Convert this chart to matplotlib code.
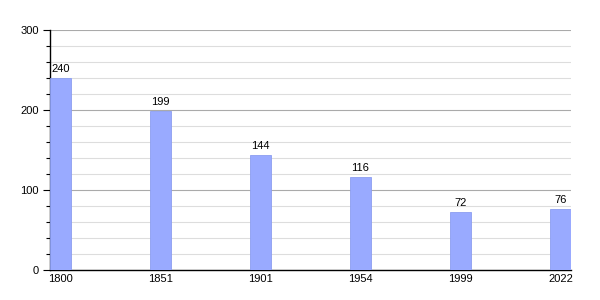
import matplotlib

matplotlib.use("Agg")
import matplotlib.pyplot as plt
import numpy as np
from matplotlib.ticker import MultipleLocator

plt.rcParams["font.family"] = ["Liberation Sans", "DejaVu Sans"]

years = ["1800", "1851", "1901", "1954", "1999", "2022"]
population = [240, 199, 144, 116, 72, 76]

bar_w = 0.21
x = np.arange(len(years))

fig = plt.figure(figsize=(6, 3), dpi=100)
ax = fig.add_axes([50 / 600, 30 / 300, 521 / 600, 240 / 300])

ax.bar(x, population, width=bar_w, align="edge", color="#99aaff",
       edgecolor="#8c9ef0", linewidth=0.6, zorder=3)
for xi, v in zip(x, population):
    ax.text(xi + bar_w / 2, v + 5, str(v), ha="center", va="bottom",
            fontsize=8, color="black", zorder=4)

ax.set_xlim(0, len(years) - 1 + bar_w)
ax.set_ylim(0, 300)
ax.set_xticks(x + bar_w / 2)
ax.set_xticklabels(years, fontsize=8)
ax.tick_params(axis="x", length=0, pad=3)

ax.yaxis.set_major_locator(MultipleLocator(100))
ax.yaxis.set_minor_locator(MultipleLocator(20))
ax.tick_params(axis="y", which="major", length=5, width=0.8, labelsize=8, pad=3)
ax.tick_params(axis="y", which="minor", length=3, width=0.8)
ax.grid(axis="y", which="major", color="#aaaaaa", lw=0.8, zorder=0)
ax.grid(axis="y", which="minor", color="#dddddd", lw=0.8, zorder=0)

for s in ("top", "right"):
    ax.spines[s].set_visible(False)
ax.spines["left"].set_linewidth(1)
ax.spines["bottom"].set_linewidth(1)

fig.savefig("out.png", dpi=100)
